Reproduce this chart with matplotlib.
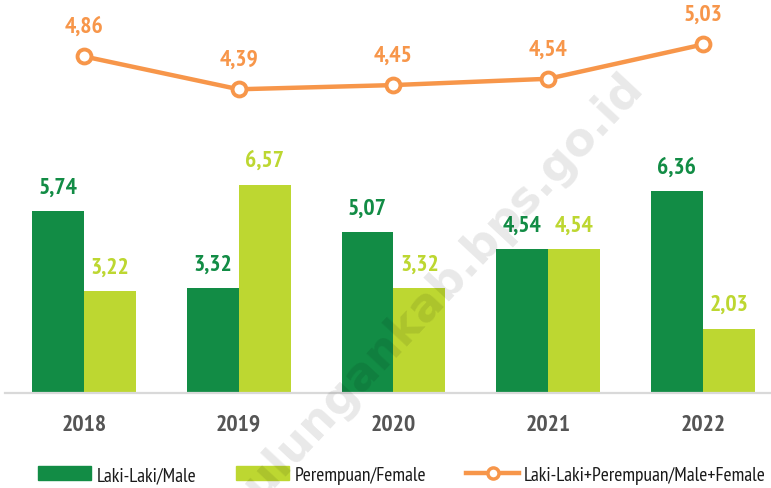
import matplotlib
matplotlib.use("Agg")
import matplotlib.pyplot as plt
import numpy as np
from matplotlib.patches import Patch
from matplotlib.lines import Line2D

years = ["2018", "2019", "2020", "2021", "2022"]
male = [5.74, 3.32, 5.07, 4.54, 6.36]
female = [3.22, 6.57, 3.32, 4.54, 2.03]
total = [4.86, 4.39, 4.45, 4.54, 5.03]
male_labels = ["5,74", "3,32", "5,07", "4,54", "6,36"]
female_labels = ["3,22", "6,57", "3,32", "4,54", "2,03"]
total_labels = ["4,86", "4,39", "4,45", "4,54", "5,03"]

FONT = "PT Sans Narrow"
plt.rcParams['font.family'] = [FONT, 'DejaVu Sans']

C_MALE = "#128C45"
C_FEM = "#BDD731"
C_TOT = "#F7964A"

fig = plt.figure(figsize=(7.71, 4.89), dpi=100)
ax = fig.add_axes([5/771, 95/489, 766/771, 394/489])
x = np.arange(len(years))
w = 0.335
ax.bar(x - w/2, male, w, color=C_MALE, zorder=2)
ax.bar(x + w/2, female, w, color=C_FEM, zorder=2)
ax.set_xlim(-0.51, 4.44)
ax.set_ylim(0, 12.43)
LBL = 17
for xi, v, l in zip(x, male, male_labels):
    ax.annotate(l, (xi - w/2, v), xytext=(0, 24), textcoords="offset pixels",
                ha="center", va="center", fontsize=LBL, fontweight="bold", color=C_MALE)
for xi, v, l in zip(x, female, female_labels):
    ax.annotate(l, (xi + w/2, v), xytext=(0, 24), textcoords="offset pixels",
                ha="center", va="center", fontsize=LBL, fontweight="bold", color=C_FEM)
for s in ["top", "right", "left"]:
    ax.spines[s].set_visible(False)
ax.spines["bottom"].set_color("#D9D9D9")
ax.spines["bottom"].set_linewidth(1.6)
ax.set_yticks([])
ax.set_xticks(x)
ax.set_xticklabels(years, fontsize=17, fontweight="bold", color="#555555")
ax.tick_params(axis="x", length=0, pad=15)

ax2 = ax.twinx()
ax2.set_ylim(0.05, 5.68)
ax2.axis("off")
ax2.plot(x, total, color=C_TOT, lw=3.2, marker="o", ms=10, mfc="white",
         mec=C_TOT, mew=2.8, zorder=3)
for xi, v, l in zip(x, total, total_labels):
    ax2.annotate(l, (xi, v), xytext=(0, 30), textcoords="offset pixels",
                 ha="center", va="center", fontsize=LBL, fontweight="bold", color=C_TOT)

handles = [Patch(color=C_MALE), Patch(color=C_FEM),
           Line2D([0], [0], color=C_TOT, lw=3.2, marker="o", ms=8, mfc="white", mec=C_TOT, mew=2.5)]
labels = ["Laki-Laki/Male", "Perempuan/Female", "Laki-Laki+Perempuan/Male+Female"]
fig.legend(handles, labels, loc="center", bbox_to_anchor=(402/771, 1 - 476/489), ncol=3,
           frameon=False, fontsize=14, handlelength=2.75, handleheight=0.7,
           handletextpad=0.25, columnspacing=2.05, labelcolor="#1a1a1a")

fig.text(432/771, 1 - 298/489, "bulungankab.bps.go.id", rotation=47, ha="center", va="center",
         fontsize=33, fontweight="bold", color="black", alpha=0.09, family="DejaVu Sans", zorder=10)

fig.savefig("out.png", dpi=100)
